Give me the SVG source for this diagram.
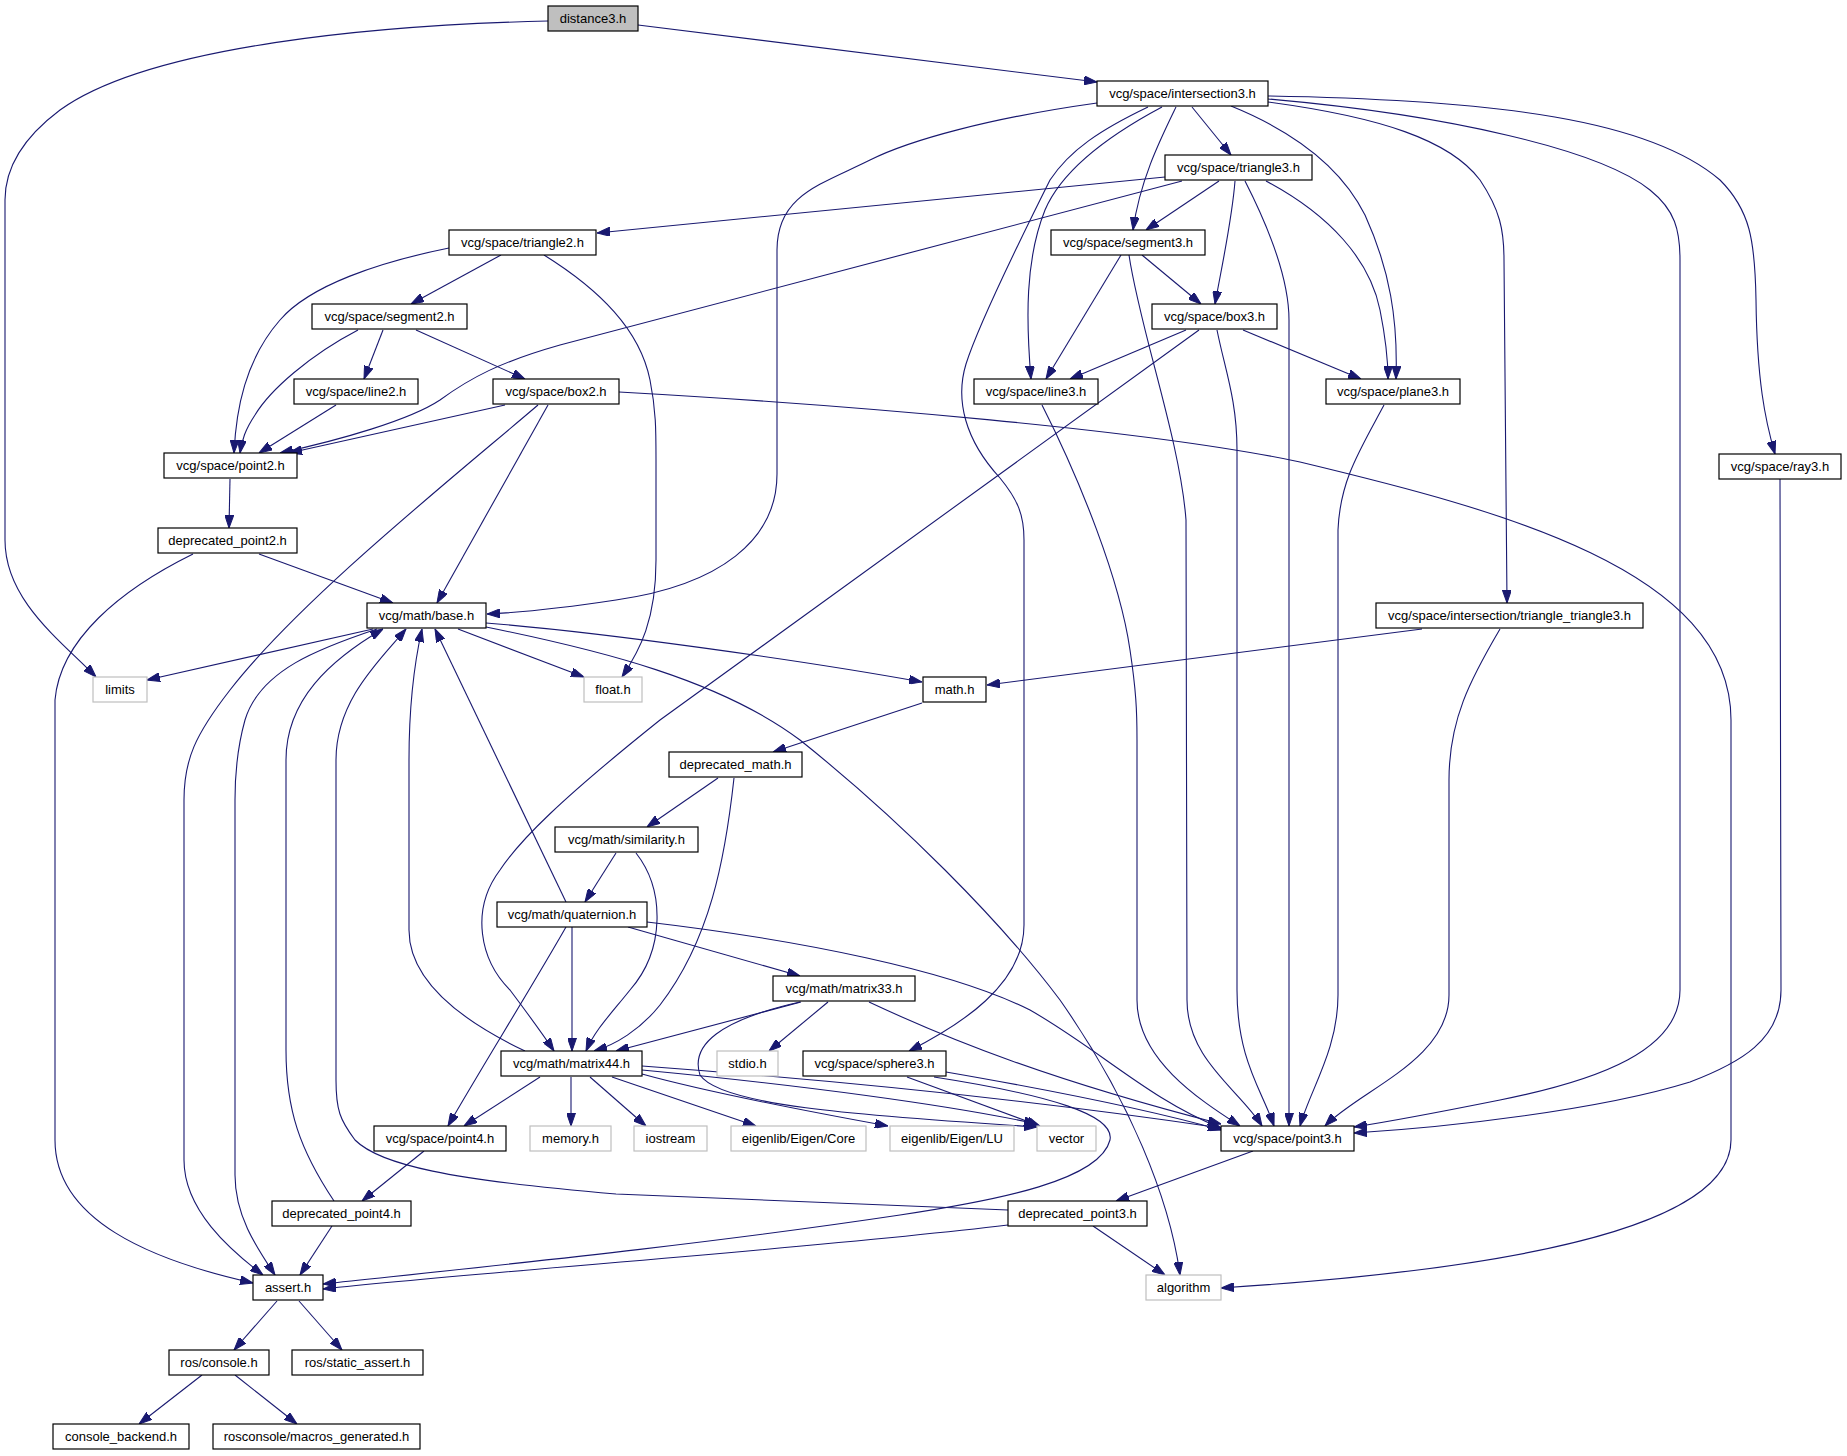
<svg xmlns="http://www.w3.org/2000/svg" width="1847" height="1456" viewBox="0 0 1847 1456">
<style>
.n rect{fill:#fff;stroke:#000;stroke-width:1.2}
.s rect{fill:#fff;stroke:#bfbfbf;stroke-width:1.2}
.r rect{fill:#bfbfbf;stroke:#000;stroke-width:1.2}
text{font-family:"Liberation Sans",Arial,Helvetica,sans-serif;font-size:13px;text-anchor:middle;fill:#000}
#edges path{fill:none;stroke:#191970;stroke-width:1.1;marker-end:url(#a)}
</style>
<defs>
<marker id="a" markerWidth="13" markerHeight="9" refX="13" refY="4.5" orient="auto" markerUnits="userSpaceOnUse"><path d="M0,0 L13,4.5 L0,9 z" fill="#191970" stroke="#191970" stroke-width="1"/></marker>
</defs>
<rect width="1847" height="1456" fill="#fff"/>
<g id="edges">
<path d="M548,21 C380,25 150,45 60,110 C20,140 5,170 5,200 L5,540 C5,600 60,640 96,677"/>
<path d="M638,25 L1097,82"/>
<path d="M1097,103 C990,118 910,140 870,160 C820,185 777,195 777,250 L777,474 C777,540 720,585 616,600 C570,607 530,612 487,614"/>
<path d="M1148,107 C1100,130 1070,150 1050,180 C1030,220 980,320 966,364 C955,400 965,440 1000,478 C1018,500 1024,515 1024,540 L1024,925 C1024,985 960,1025 909,1051"/>
<path d="M1162,107 C1100,140 1060,175 1045,210 C1025,260 1026,320 1031,379"/>
<path d="M1176,107 C1160,140 1140,180 1133,230"/>
<path d="M1192,107 L1231,155"/>
<path d="M1231,106 C1290,130 1340,165 1365,215 C1390,270 1398,320 1396,379"/>
<path d="M1268,102 C1380,117 1450,140 1480,180 C1500,210 1504,230 1504,260 L1507,603"/>
<path d="M1268,99 C1450,115 1600,150 1650,190 C1675,210 1680,230 1680,260 L1680,990 C1680,1050 1600,1080 1500,1100 C1440,1112 1400,1120 1354,1127"/>
<path d="M1268,96 C1500,100 1650,120 1720,180 C1750,210 1755,240 1756,300 C1757,380 1765,420 1775,454"/>
<path d="M1165,177 L597,233"/>
<path d="M1182,181 L560,345 C500,362 470,378 440,400 C410,420 340,440 280,453"/>
<path d="M1219,181 L1146,230"/>
<path d="M1235,181 C1232,220 1222,265 1215,304"/>
<path d="M1245,181 C1270,230 1289,280 1289,320 L1289,1126"/>
<path d="M1266,181 C1330,215 1370,260 1380,310 C1386,340 1388,360 1388,379"/>
<path d="M501,255 L411,304"/>
<path d="M449,248 C380,262 310,285 280,320 C245,360 236,410 234,453"/>
<path d="M544,255 C600,290 640,330 650,380 C656,410 656,430 656,460 L656,560 C656,620 640,650 622,677"/>
<path d="M383,330 L364,379"/>
<path d="M416,330 L525,379"/>
<path d="M358,330 C310,355 270,390 255,415 C245,430 242,440 240,453"/>
<path d="M1142,255 L1201,304"/>
<path d="M1121,255 L1046,379"/>
<path d="M1129,255 C1140,330 1180,440 1186,520 L1187,1000 C1187,1060 1240,1090 1262,1126"/>
<path d="M1186,330 L1070,379"/>
<path d="M1243,330 L1361,379"/>
<path d="M1217,330 C1225,370 1237,400 1237,450 L1237,990 C1237,1060 1262,1090 1274,1126"/>
<path d="M1199,330 L660,720 C560,800 520,840 500,870 C470,910 480,960 510,990 C525,1010 540,1030 554,1051"/>
<path d="M336,405 L259,453"/>
<path d="M505,405 L289,453"/>
<path d="M548,405 L437,603"/>
<path d="M538,405 C450,480 300,600 230,690 C195,735 184,760 184,800 L184,1160 C184,1210 230,1250 263,1275"/>
<path d="M619,392 C850,405 1150,430 1300,462 C1500,510 1731,570 1731,720 L1731,1140 C1731,1230 1500,1270 1221,1288"/>
<path d="M1042,405 C1080,480 1120,580 1130,650 C1136,690 1137,710 1137,740 L1137,1000 C1137,1060 1200,1100 1240,1126"/>
<path d="M1384,405 C1360,450 1340,480 1338,530 L1338,995 C1338,1050 1310,1090 1300,1126"/>
<path d="M1780,479 L1781,990 C1781,1040 1740,1063 1690,1082 C1600,1110 1450,1127 1354,1133"/>
<path d="M1422,629 L987,685"/>
<path d="M1500,629 C1470,680 1449,720 1449,780 L1449,995 C1449,1060 1360,1090 1325,1126"/>
<path d="M230,479 L229,528"/>
<path d="M259,554 L393,603"/>
<path d="M193,554 C120,590 60,640 55,700 L55,1140 C55,1220 150,1260 253,1283"/>
<path d="M373,629 L147,680"/>
<path d="M458,629 L584,677"/>
<path d="M486,623 C600,632 800,660 922,682"/>
<path d="M486,627 C600,650 720,680 800,740 C900,820 1000,920 1060,1000 C1130,1100 1170,1200 1180,1275"/>
<path d="M377,629 C320,648 260,670 245,720 C238,745 235,770 235,800 L235,1175 C235,1215 255,1245 275,1275"/>
<path d="M922,703 L773,752"/>
<path d="M718,778 L647,827"/>
<path d="M734,778 C725,860 710,940 660,1005 C640,1030 615,1045 594,1051"/>
<path d="M616,853 L585,902"/>
<path d="M636,853 C665,890 665,950 630,990 C610,1015 595,1030 586,1051"/>
<path d="M566,902 L435,629"/>
<path d="M572,927 L572,1051"/>
<path d="M628,927 L800,976"/>
<path d="M566,927 C530,990 480,1070 448,1126"/>
<path d="M647,922 C800,940 950,970 1030,1010 C1100,1050 1150,1100 1221,1128"/>
<path d="M801,1002 L616,1051"/>
<path d="M828,1002 L769,1051"/>
<path d="M800,1002 C720,1020 690,1045 700,1075 C720,1105 850,1115 1037,1127"/>
<path d="M869,1002 C950,1040 1050,1080 1221,1124"/>
<path d="M525,1051 C460,1020 409,980 409,930 L409,760 C409,700 415,660 422,629"/>
<path d="M540,1077 L464,1126"/>
<path d="M571,1077 L571,1126"/>
<path d="M590,1077 L646,1126"/>
<path d="M612,1077 L756,1126"/>
<path d="M642,1074 C700,1090 800,1110 888,1126"/>
<path d="M642,1070 C800,1085 950,1105 1037,1124"/>
<path d="M642,1066 C900,1085 1100,1110 1221,1128"/>
<path d="M907,1077 L1040,1126"/>
<path d="M946,1072 C1050,1090 1150,1110 1221,1130"/>
<path d="M934,1077 C1050,1095 1115,1115 1110,1140 C1100,1180 1000,1200 900,1215 C700,1245 500,1265 323,1284"/>
<path d="M424,1151 L362,1201"/>
<path d="M334,1201 C300,1150 286,1110 286,1050 L286,760 C286,700 330,660 383,629"/>
<path d="M332,1226 L300,1275"/>
<path d="M1253,1151 L1116,1201"/>
<path d="M1008,1210 L616,1194 C450,1180 380,1165 355,1140 C340,1120 336,1110 336,1080 L336,760 C336,700 380,660 406,629"/>
<path d="M1008,1225 C800,1250 500,1270 323,1289"/>
<path d="M1093,1226 L1165,1275"/>
<path d="M277,1301 L234,1350"/>
<path d="M299,1301 L342,1350"/>
<path d="M202,1375 L139,1424"/>
<path d="M235,1375 L297,1424"/>
</g>
<g id="n1" class="r"><rect x="548" y="6" width="90" height="25"/><text x="593" y="23">distance3.h</text></g>
<g id="n2" class="n"><rect x="1097" y="81" width="171" height="25"/><text x="1182.5" y="98">vcg/space/intersection3.h</text></g>
<g id="n3" class="n"><rect x="1165" y="155" width="147" height="25"/><text x="1238.5" y="172">vcg/space/triangle3.h</text></g>
<g id="n4" class="n"><rect x="449" y="230" width="147" height="25"/><text x="522.5" y="247">vcg/space/triangle2.h</text></g>
<g id="n5" class="n"><rect x="1051" y="230" width="154" height="25"/><text x="1128" y="247">vcg/space/segment3.h</text></g>
<g id="n6" class="n"><rect x="312" y="304" width="155" height="25"/><text x="389.5" y="321">vcg/space/segment2.h</text></g>
<g id="n7" class="n"><rect x="1152" y="304" width="125" height="25"/><text x="1214.5" y="321">vcg/space/box3.h</text></g>
<g id="n8" class="n"><rect x="294" y="379" width="124" height="25"/><text x="356" y="396">vcg/space/line2.h</text></g>
<g id="n9" class="n"><rect x="493" y="379" width="126" height="25"/><text x="556" y="396">vcg/space/box2.h</text></g>
<g id="n10" class="n"><rect x="974" y="379" width="124" height="25"/><text x="1036" y="396">vcg/space/line3.h</text></g>
<g id="n11" class="n"><rect x="1326" y="379" width="134" height="25"/><text x="1393" y="396">vcg/space/plane3.h</text></g>
<g id="n12" class="n"><rect x="164" y="453" width="133" height="25"/><text x="230.5" y="470">vcg/space/point2.h</text></g>
<g id="n13" class="n"><rect x="1719" y="454" width="122" height="25"/><text x="1780" y="471">vcg/space/ray3.h</text></g>
<g id="n14" class="n"><rect x="158" y="528" width="139" height="25"/><text x="227.5" y="545">deprecated_point2.h</text></g>
<g id="n15" class="n"><rect x="367" y="603" width="119" height="25"/><text x="426.5" y="620">vcg/math/base.h</text></g>
<g id="n16" class="n"><rect x="1376" y="603" width="267" height="25"/><text x="1509.5" y="620">vcg/space/intersection/triangle_triangle3.h</text></g>
<g id="n17" class="s"><rect x="93" y="677" width="54" height="25"/><text x="120" y="694">limits</text></g>
<g id="n18" class="s"><rect x="584" y="677" width="58" height="25"/><text x="613" y="694">float.h</text></g>
<g id="n19" class="n"><rect x="923" y="677" width="63" height="25"/><text x="954.5" y="694">math.h</text></g>
<g id="n20" class="n"><rect x="669" y="752" width="133" height="25"/><text x="735.5" y="769">deprecated_math.h</text></g>
<g id="n21" class="n"><rect x="555" y="827" width="143" height="25"/><text x="626.5" y="844">vcg/math/similarity.h</text></g>
<g id="n22" class="n"><rect x="497" y="902" width="150" height="25"/><text x="572" y="919">vcg/math/quaternion.h</text></g>
<g id="n23" class="n"><rect x="773" y="976" width="142" height="25"/><text x="844" y="993">vcg/math/matrix33.h</text></g>
<g id="n24" class="n"><rect x="501" y="1051" width="141" height="25"/><text x="571.5" y="1068">vcg/math/matrix44.h</text></g>
<g id="n25" class="s"><rect x="717" y="1051" width="61" height="25"/><text x="747.5" y="1068">stdio.h</text></g>
<g id="n26" class="n"><rect x="803" y="1051" width="143" height="25"/><text x="874.5" y="1068">vcg/space/sphere3.h</text></g>
<g id="n27" class="n"><rect x="374" y="1126" width="132" height="25"/><text x="440" y="1143">vcg/space/point4.h</text></g>
<g id="n28" class="s"><rect x="530" y="1126" width="81" height="25"/><text x="570.5" y="1143">memory.h</text></g>
<g id="n29" class="s"><rect x="634" y="1126" width="73" height="25"/><text x="670.5" y="1143">iostream</text></g>
<g id="n30" class="s"><rect x="731" y="1126" width="135" height="25"/><text x="798.5" y="1143">eigenlib/Eigen/Core</text></g>
<g id="n31" class="s"><rect x="890" y="1126" width="124" height="25"/><text x="952" y="1143">eigenlib/Eigen/LU</text></g>
<g id="n32" class="s"><rect x="1037" y="1126" width="59" height="25"/><text x="1066.5" y="1143">vector</text></g>
<g id="n33" class="n"><rect x="1221" y="1126" width="133" height="25"/><text x="1287.5" y="1143">vcg/space/point3.h</text></g>
<g id="n34" class="n"><rect x="272" y="1201" width="139" height="25"/><text x="341.5" y="1218">deprecated_point4.h</text></g>
<g id="n35" class="n"><rect x="1008" y="1201" width="139" height="25"/><text x="1077.5" y="1218">deprecated_point3.h</text></g>
<g id="n36" class="n"><rect x="253" y="1275" width="70" height="25"/><text x="288" y="1292">assert.h</text></g>
<g id="n37" class="s"><rect x="1146" y="1275" width="75" height="25"/><text x="1183.5" y="1292">algorithm</text></g>
<g id="n38" class="n"><rect x="169" y="1350" width="100" height="25"/><text x="219" y="1367">ros/console.h</text></g>
<g id="n39" class="n"><rect x="292" y="1350" width="131" height="25"/><text x="357.5" y="1367">ros/static_assert.h</text></g>
<g id="n40" class="n"><rect x="53" y="1424" width="136" height="25"/><text x="121" y="1441">console_backend.h</text></g>
<g id="n41" class="n"><rect x="213" y="1424" width="207" height="25"/><text x="316.5" y="1441">rosconsole/macros_generated.h</text></g>
</svg>
